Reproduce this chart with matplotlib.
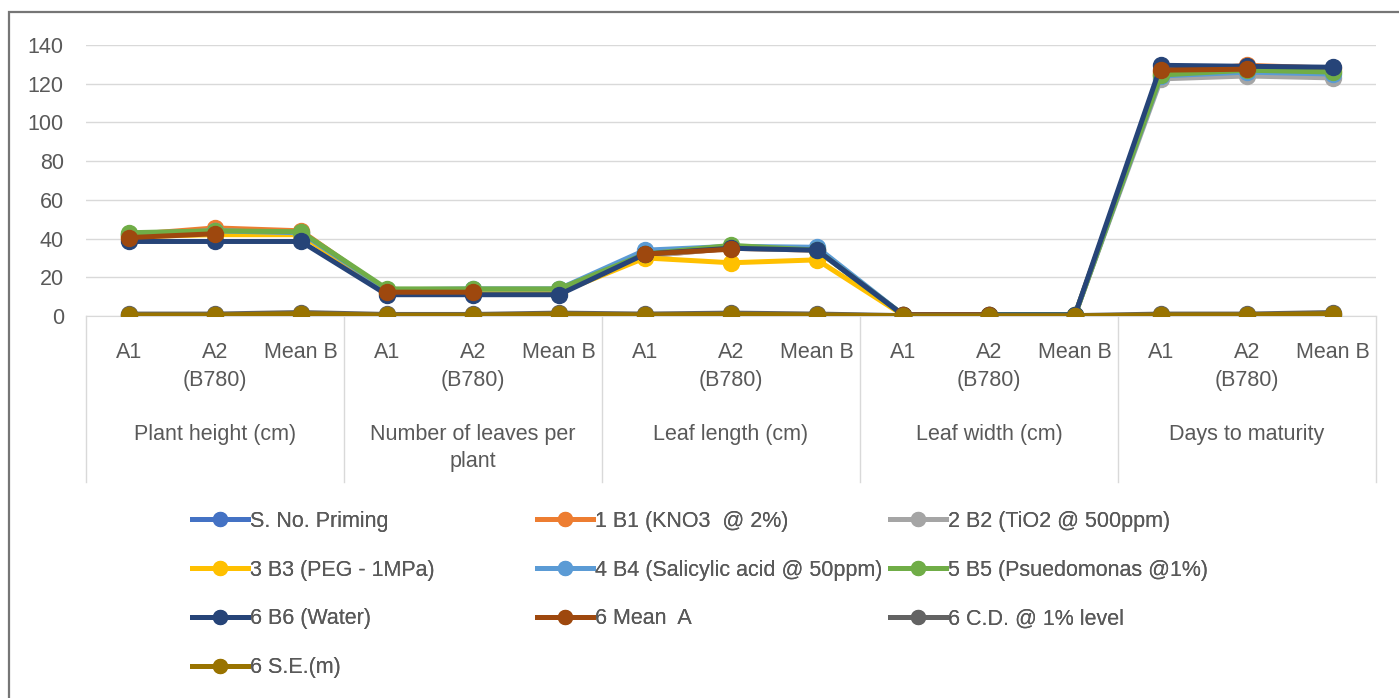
import matplotlib.pyplot as plt
import matplotlib.transforms as mtransforms
from matplotlib.lines import Line2D
from matplotlib.patches import Rectangle

plt.rcParams["font.family"] = ["Liberation Sans", "DejaVu Sans"]

nan = float("nan")

# categories (two-level axis)
groups = ["Plant height (cm)", "Number of leaves per\nplant", "Leaf length (cm)",
          "Leaf width (cm)", "Days to maturity"]
sub_labels = ["A1", "A2\n(B780)", "Mean B"]

# series values, 15 points each (3 per group)
s_no = [0.3, 0.3, 0.5, 0.3, 0.3, 0.5, 0.3, 0.3, 0.5, 0.1, 0.1, 0.1, 0.3, 0.3, 0.5]
b1_kno3 = [42, 45.5, 44, 13, 13, 13, 31, 35, 34, 0.6, 0.6, 0.6, 126, 129.5, 128]
b2_tio2 = [42, 44, 43, 13, 13, 13, 31, 35, 34, 0.5, 0.5, 0.5, 122.5, 124, 123]
b3_peg = [41, 42, 42, 12, 12, 12, 30, 27.5, 29, 0.5, 0.5, 0.5, 125, 128, 126.5]
b4_salicylic = [42.5, 44, 43, 13.5, 14, 14, 34, 36, 35.5, 0.6, 0.6, 0.6, 124, 126, 125]
b5_pseudomonas = [43, 44, 43.5, 14, 14, 14, 32, 36.5, 34, 0.6, 0.6, 0.6, 124.5, 127, 126]
b6_water = [38.5, 38.5, 38.5, 11, 11, 11, 32, 35, 34, 0.6, 0.6, 0.6, 129.5, 129, 128.5]
mean_a = [40.5, 42.5, nan, 12.3, 12.3, nan, 32, 34.5, nan, 0.6, 0.6, nan, 127, 127.5, nan]
cd_1pct = [1.0, 1.0, 1.8, 0.8, 0.8, 1.5, 1.0, 1.5, 1.0, 0.2, 0.2, 0.2, 1.0, 1.0, 1.8]
se_m = [0.5, 0.5, 1.2, 0.4, 0.4, 1.0, 0.5, 0.9, 0.5, 0.1, 0.1, 0.1, 0.5, 0.6, 1.2]

series = [
    ("S. No. Priming", s_no, "#4472C4"),
    ("1 B1 (KNO3  @ 2%)", b1_kno3, "#ED7D31"),
    ("2 B2 (TiO2 @ 500ppm)", b2_tio2, "#A5A5A5"),
    ("3 B3 (PEG - 1MPa)", b3_peg, "#FFC000"),
    ("4 B4 (Salicylic acid @ 50ppm)", b4_salicylic, "#5B9BD5"),
    ("5 B5 (Psuedomonas @1%)", b5_pseudomonas, "#70AD47"),
    ("6 B6 (Water)", b6_water, "#264478"),
    ("6 Mean  A", mean_a, "#9E480E"),
    ("6 C.D. @ 1% level", cd_1pct, "#636363"),
    ("6 S.E.(m)", se_m, "#997300"),
]

text_col = "#595959"
grid_col = "#D9D9D9"
fs = 15.5

fig = plt.figure(figsize=(13.99, 6.98), dpi=100)
W, H = 1399, 698
ax = fig.add_axes([86 / W, 1 - 316 / H, (1376 - 86) / W, (316 - 45) / H])

# outer chart frame
fig.patches.append(Rectangle((8.5 / W, -0.1), 1.2, 1 - 12.5 / H + 0.1, transform=fig.transFigure,
                             fill=False, edgecolor="#767676", linewidth=1.6))

x = list(range(15))
for label, vals, col in series:
    ax.plot(x, vals, color=col, linewidth=3.6, marker="o", markersize=11.5,
            solid_capstyle="round", label=label, zorder=3)

ax.set_xlim(-0.5, 14.5)
ax.set_ylim(0, 140)
ax.set_yticks(range(0, 141, 20))
ax.grid(axis="y", color=grid_col, linewidth=1)
ax.set_axisbelow(True)
for s in ["left", "right", "top"]:
    ax.spines[s].set_visible(False)
ax.spines["bottom"].set_color(grid_col)
ax.tick_params(axis="y", length=0, pad=16, labelsize=fs, labelcolor=text_col)
ax.tick_params(axis="x", length=0, pad=19, labelsize=fs, labelcolor=text_col)
ax.set_xticks(x)
ax.set_xticklabels(sub_labels * 5, linespacing=1.4, va="top")

trans = mtransforms.blended_transform_factory(ax.transData, ax.transAxes)
px = 1 / (316 - 45)
for i, g in enumerate(groups):
    ax.text(3 * i + 1, -(424 - 316) * px, g, transform=trans, ha="center", va="top",
            fontsize=fs, color=text_col, linespacing=1.4)
for b in [-0.5, 2.5, 5.5, 8.5, 11.5, 14.5]:
    ax.plot([b, b], [0, -(482 - 316) * px], transform=trans, color=grid_col,
            linewidth=1, clip_on=False)

# legend, filled row by row in three columns
col_x = [190, 535, 888]
for c in range(3):
    idx = list(range(c, len(series), 3))
    hs = [Line2D([], [], color=series[i][2], linewidth=3.6, marker="o", markersize=10)
          for i in idx]
    leg = fig.legend(hs, [series[i][0] for i in idx], loc="upper left",
                     bbox_to_anchor=(col_x[c] / W - 0.006, 1 - 500 / H), frameon=False,
                     fontsize=fs, handlelength=2.6, handletextpad=0.1,
                     labelspacing=1.29, labelcolor=text_col, borderpad=0)
    fig.add_artist(leg)

fig.savefig("out.png", dpi=100)
